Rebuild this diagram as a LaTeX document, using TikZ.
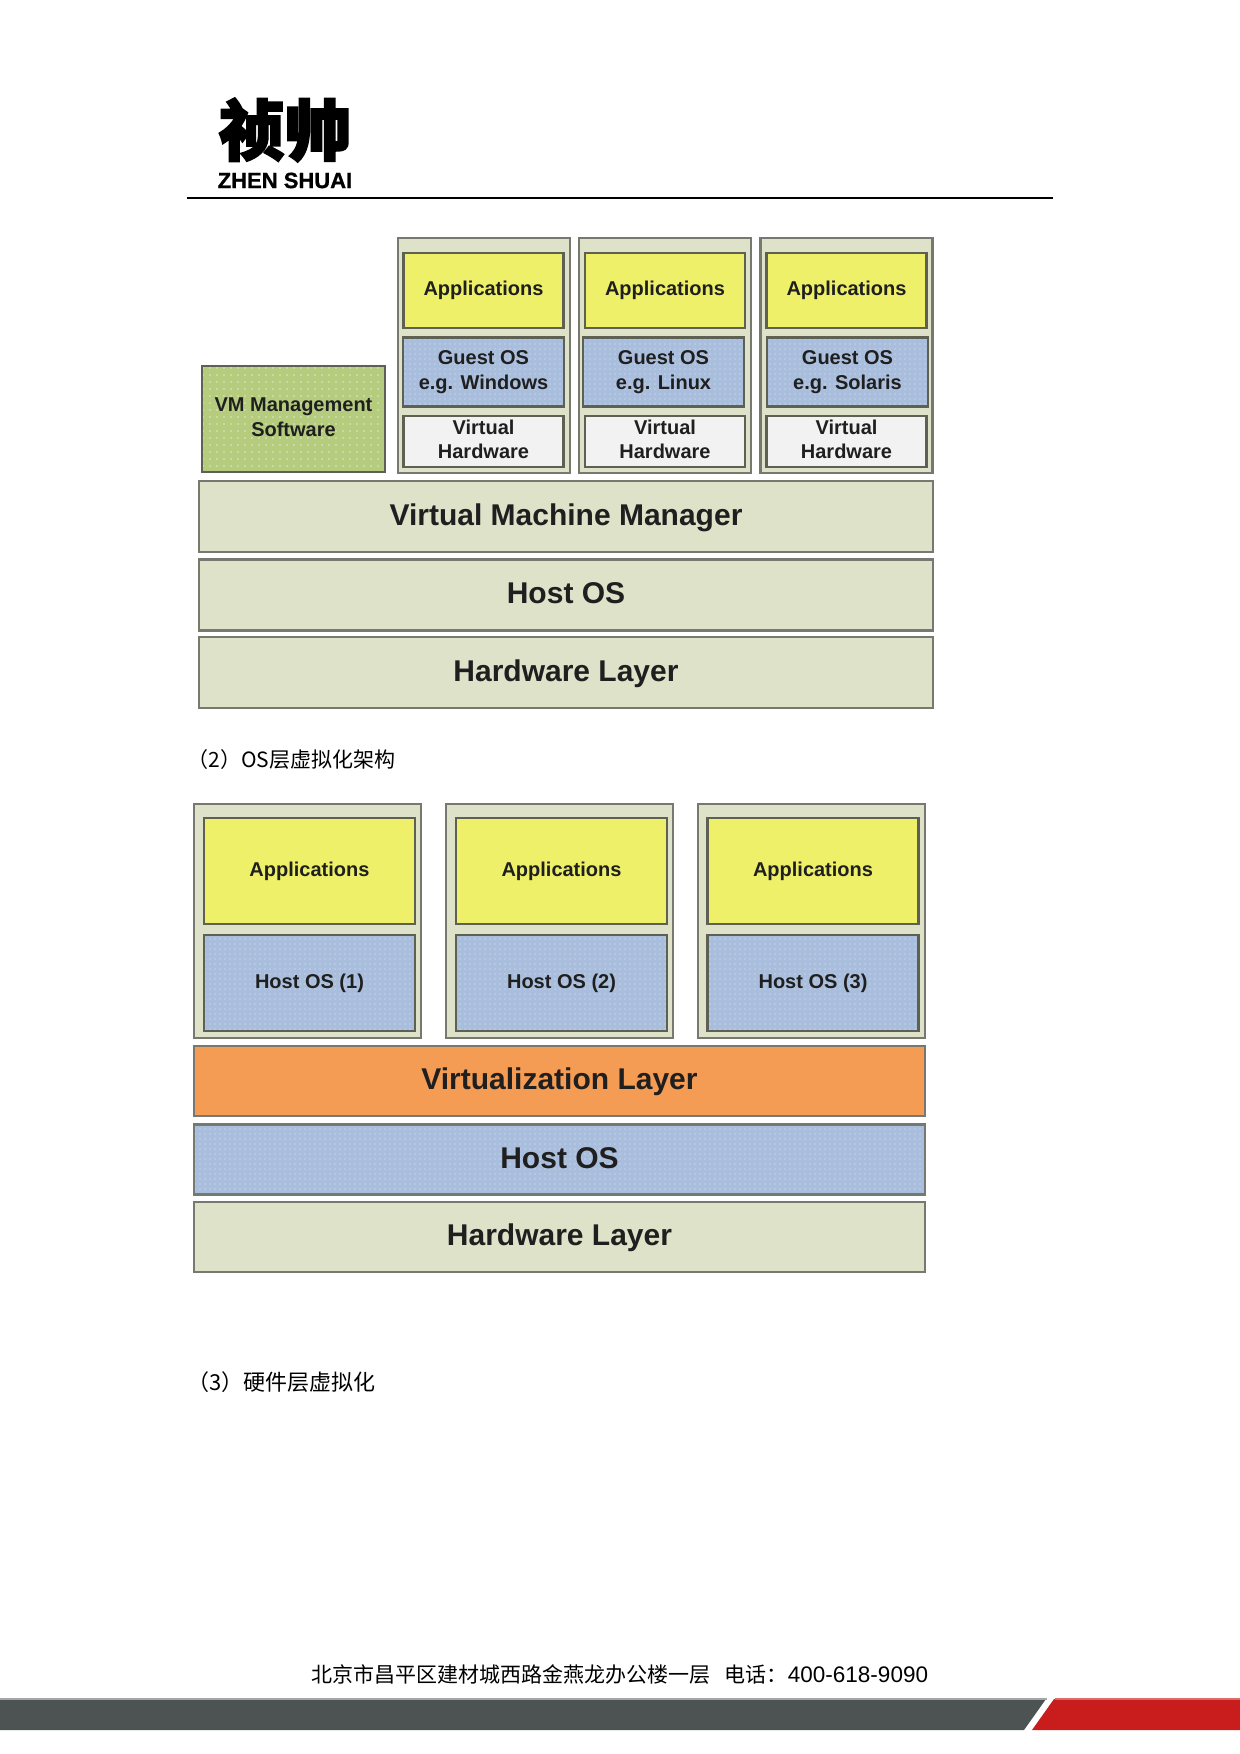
\documentclass[tikz,border=0pt]{standalone}
\usepackage{fontspec}
\setmainfont{Liberation Sans}
\newfontfamily\cjkfont{Noto Sans CJK SC}
\newfontfamily\logofont[FakeBold=3]{Noto Sans CJK SC}
\newfontfamily\logolatin[FakeBold=1]{Liberation Sans}
\usetikzlibrary{positioning,patterns.meta}
\definecolor{layergreen}{HTML}{DDE2C9}
\definecolor{appyellow}{HTML}{EEF06A}
\definecolor{osblue}{HTML}{A9BEDC}
\definecolor{vmgreen}{HTML}{B5CC7E}
\definecolor{virtorange}{HTML}{F49B54}
\definecolor{hwwhite}{HTML}{F2F2F2}
\definecolor{edgegray}{HTML}{5E6054}
\definecolor{colgray}{HTML}{777970}
\definecolor{bardark}{HTML}{4D5352}
\definecolor{barred}{HTML}{C91C1C}
\begin{document}
\begin{tikzpicture}[
  x=0.5pt, y=-0.5pt,
  box/.style={draw=edgegray, line width=1.1pt, inner sep=0pt, align=center, text=black!88,
    font=\bfseries\fontsize{10}{12.2}\selectfont},
  column/.style={box, fill=layergreen, draw=colgray},
  layer/.style={box, fill=layergreen, draw=colgray, text height=11pt, text depth=2.2pt,
    font=\bfseries\fontsize{15}{18}\selectfont},
  dotted fill/.style={preaction={fill=#1},
    preaction={pattern={Dots[distance=2.5pt,radius=0.35pt]}, pattern color=white!70!#1}},
  apps/.style={box, fill=appyellow, minimum width=80pt},
  guest/.style={box, minimum width=80.5pt, minimum height=34.5pt, dotted fill=osblue},
  virt/.style={box, fill=hwwhite, minimum width=80pt, minimum height=25.5pt, text depth=2.2pt},
  caption/.style={anchor=west, inner sep=0pt, font=\cjkfont\fontsize{10.5}{12}\selectfont}
]
  \useasboundingbox (0,0) rectangle (1240,1754);
  \fill[white] (0,0) rectangle (1240,1754);

  % letterhead
  \node[inner sep=0pt, font=\logofont\bfseries\fontsize{33}{33}\selectfont] (logo) at (285,130) {祯帅};
  \node[inner sep=0pt, font=\logolatin\bfseries\fontsize{11}{11}\selectfont] (logotext) at (285,180.5) {ZHEN SHUAI};
  \coordinate (ruleleft) at (187,198);
  \coordinate (ruleright) at (1053,198);
  \draw[line width=1pt] (ruleleft) -- (ruleright);

  % first stack
  \node[box, minimum width=91.5pt, minimum height=53pt, text depth=1.7pt, preaction={fill=vmgreen},
    preaction={pattern={Dots[distance=3.5pt,radius=0.4pt]}, pattern color=white!55!vmgreen}] (vmsoft) at (293.5,419) {VM Management\\Software};

  \node[column, minimum width=86pt, minimum height=117.5pt] (cola) at (484,355.5) {};
  \node[column, minimum width=86pt, minimum height=117.5pt] (colb) at (665,355.5) {};
  \node[column, minimum width=86pt, minimum height=117.5pt] (colc) at (846.5,355.5) {};

  \node[apps, minimum height=37.5pt] (appa) at (483.5,290.5) {Applications};
  \node[apps, minimum height=37.5pt] (appb) at (665,290.5) {Applications};
  \node[apps, minimum height=37.5pt] (appc) at (846.5,290.5) {Applications};

  \node[guest] (guesta) at (483.5,372) {Guest OS\\e.g. Windows};
  \node[guest] (guestb) at (663.5,372) {Guest OS\\e.g. Linux};
  \node[guest] (guestc) at (847.5,372) {Guest OS\\e.g. Solaris};

  \node[virt] (virta) at (483.5,441.5) {Virtual\\Hardware};
  \node[virt] (virtb) at (665,441.5) {Virtual\\Hardware};
  \node[virt] (virtc) at (846.5,441.5) {Virtual\\Hardware};

  \node[layer, minimum width=367pt, minimum height=35.5pt] (vmm) at (566,516.5) {Virtual Machine Manager};
  \node[layer, minimum width=367pt, minimum height=35.5pt] (hostone) at (566,595) {Host OS};
  \node[layer, minimum width=367pt, minimum height=35.5pt] (hwone) at (566,672.5) {Hardware Layer};

  \node[caption] (captwo) at (187,760) {（2）OS层虚拟化架构};

  % second stack
  \node[column, minimum width=113.5pt, minimum height=117pt] (cold) at (307.8,921) {};
  \node[column, minimum width=113.5pt, minimum height=117pt] (cole) at (559.5,921) {};
  \node[column, minimum width=113.5pt, minimum height=117pt] (colf) at (811.5,921) {};

  \node[apps, minimum width=105.5pt, minimum height=53pt] (appd) at (309.5,871) {Applications};
  \node[apps, minimum width=105.5pt, minimum height=53pt] (appe) at (561.5,871) {Applications};
  \node[apps, minimum width=105.5pt, minimum height=53pt] (appf) at (813,871) {Applications};

  \node[guest, minimum width=105.5pt, minimum height=48pt] (hostd) at (309.5,983) {Host OS (1)};
  \node[guest, minimum width=105.5pt, minimum height=48pt] (hoste) at (561.5,983) {Host OS (2)};
  \node[guest, minimum width=105.5pt, minimum height=48pt] (hostf) at (813,983) {Host OS (3)};

  \node[layer, fill=virtorange, minimum width=365.5pt, minimum height=35pt] (virtlayer) at (559.5,1081) {Virtualization Layer};
  \node[layer, fill=none, dotted fill=osblue, minimum width=365.5pt, minimum height=35pt] (hosttwo) at (559.5,1159.5) {Host OS};
  \node[layer, minimum width=365.5pt, minimum height=35pt] (hwtwo) at (559.5,1237) {Hardware Layer};

  \node[caption, font=\cjkfont\fontsize{11}{12}\selectfont] (capthree) at (187,1382) {（3）硬件层虚拟化};

  % footer
  \node[inner sep=0pt, font=\cjkfont\fontsize{10.5}{12}\selectfont] (address) at (620,1674) {北京市昌平区建材城西路金燕龙办公楼一层\hspace{7pt}电话：{\rmfamily\fontsize{11.25}{12}\selectfont 400-618-9090}};
  \fill[bardark] (0,1699) -- (1046,1699) -- (1024,1730) -- (0,1730) -- cycle;
  \fill[barred] (1054,1699) -- (1240,1699) -- (1240,1730) -- (1032,1730) -- cycle;
  \fill[gray!70] (0,1698) rectangle (1046.5,1699.5);
  \fill[barred!65!white] (1054.5,1698) rectangle (1240,1699.5);
\end{tikzpicture}
\end{document}
